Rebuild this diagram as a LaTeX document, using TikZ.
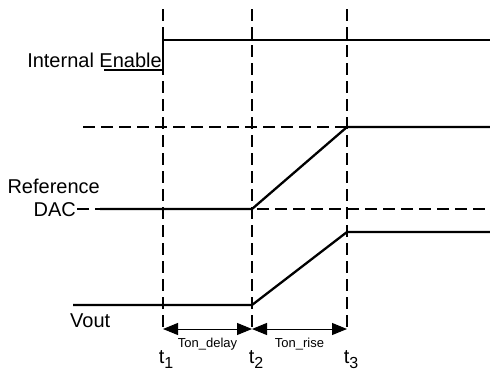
\documentclass[tikz,border=0pt]{standalone}
\usepackage{fontspec}
\setmainfont{Liberation Sans}
\usetikzlibrary{positioning, arrows.meta, calc}

\begin{document}
\begin{tikzpicture}[
    x=1pt, y=-1pt,
    signal/.style={line width=2.3pt},
    marker/.style={line width=2.5pt, dash pattern=on 12pt off 6pt},
    span/.style={{Triangle[length=15pt,width=12pt]}-{Triangle[length=15pt,width=12pt]}, line width=1pt},
    lbl/.style={font=\fontsize{20}{23}\selectfont, inner sep=0pt},
    tiny/.style={font=\fontsize{13}{15}\selectfont, inner sep=0pt}
]
    \useasboundingbox (0,0) rectangle (490,372);

    % time markers
    \coordinate (t1) at (163,331);
    \coordinate (t2) at (252,331);
    \coordinate (t3) at (347,331);
    \foreach \t in {t1,t2,t3}
        \draw[marker] ($(\t)+(0,-322)$) -- (\t);

    % reference levels
    \draw[marker] (83,127) -- (490,127);
    \draw[marker] (77,209) -- (490,209);

    % signals
    \draw[signal] (104,70) -- (163,70) -- (163,40) -- (490,40);
    \draw[signal] (100,209) -- (252,209) -- (347,127) -- (490,127);
    \draw[signal] (73,305) -- (252,305) -- (347,232) -- (490,232);

    % labels
    \node[lbl, anchor=east] (enable) at (162,60) {Internal Enable};
    \node[lbl, anchor=east] (refname) at (100,186) {Reference};
    \node[lbl, anchor=east] (dac) at (76,210) {DAC};
    \node[lbl, anchor=west] (vout) at (70,321) {Vout};

    % timing spans
    \coordinate (a1) at (163,329);
    \coordinate (a2) at (252,329);
    \coordinate (a3) at (347,329);
    \draw[span] (a1) -- node[tiny, below=9pt] (delay) {Ton\_delay} (a2);
    \draw[span] (a2) -- node[tiny, below=9pt] (rise) {Ton\_rise} (a3);

    \node[lbl, anchor=north] (lt1) at (166,350) {t\raisebox{-0.5ex}{\fontsize{16}{18}\selectfont 1}};
    \node[lbl, anchor=north] (lt2) at (256,350) {t\raisebox{-0.5ex}{\fontsize{16}{18}\selectfont 2}};
    \node[lbl, anchor=north] (lt3) at (351,350) {t\raisebox{-0.5ex}{\fontsize{16}{18}\selectfont 3}};
\end{tikzpicture}
\end{document}
